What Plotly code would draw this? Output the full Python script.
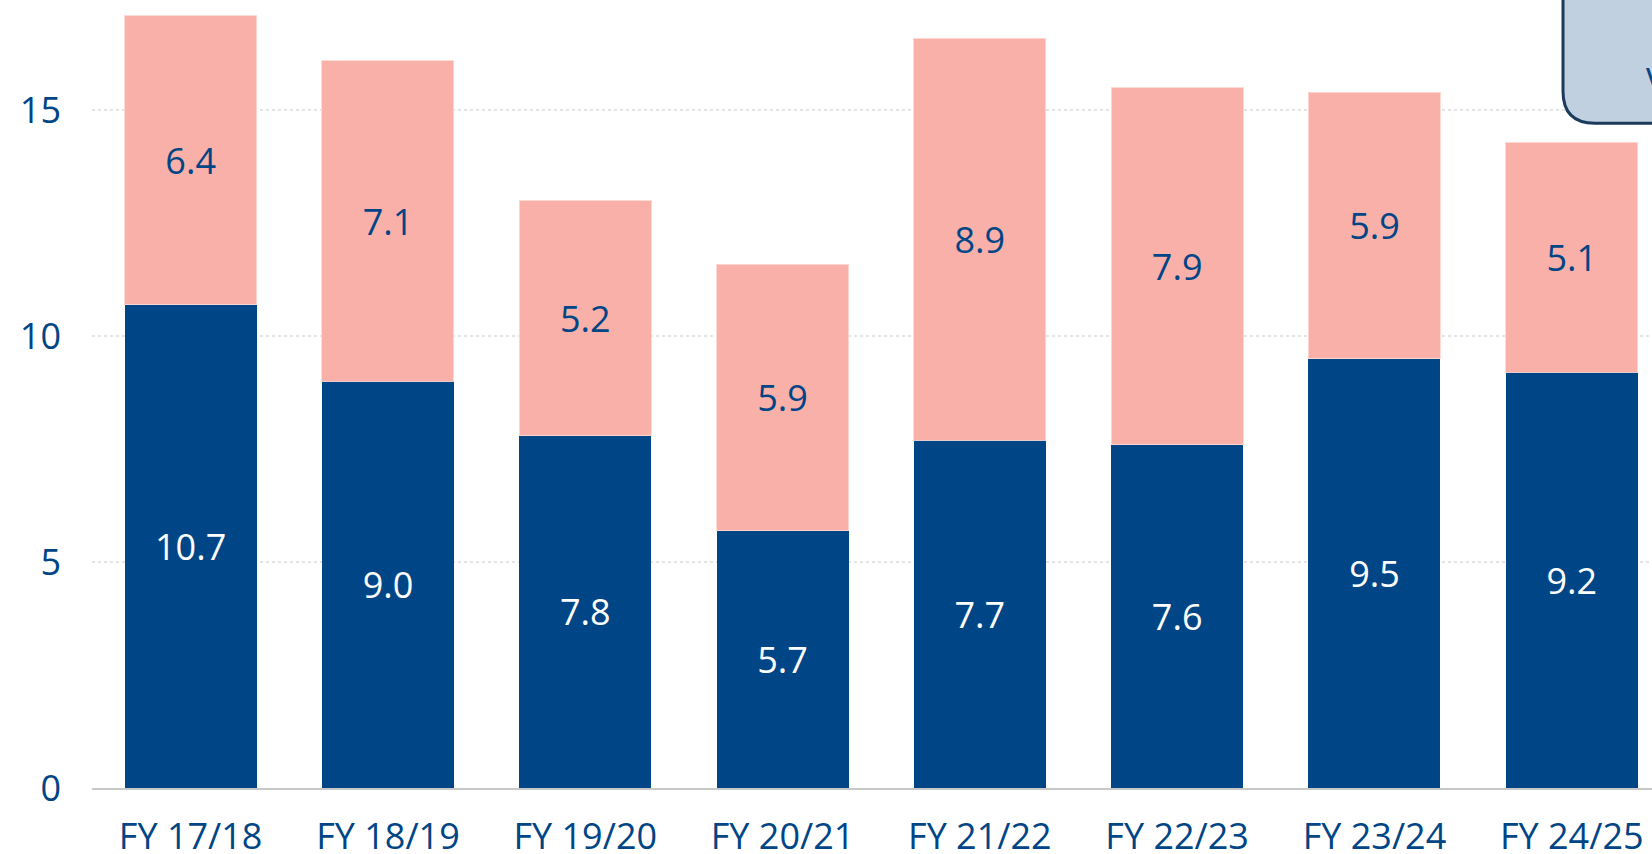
import plotly.graph_objects as go

categories = ["FY 17/18", "FY 18/19", "FY 19/20", "FY 20/21", "FY 21/22", "FY 22/23", "FY 23/24", "FY 24/25"]
base_values = [10.7, 9.0, 7.8, 5.7, 7.7, 7.6, 9.5, 9.2]
top_values = [6.4, 7.1, 5.2, 5.9, 8.9, 7.9, 5.9, 5.1]
y_ticks = [0, 5, 10, 15]

NAVY = "#004585"
PINK = "#f8b0a9"
FONT = "Open Sans"
FS = 36

fig = go.Figure()
fig.add_trace(go.Bar(
    x=categories, y=base_values, name="base",
    marker=dict(color=NAVY, line=dict(width=0)),
    texttemplate="%{y:.1f}", textposition="inside", insidetextanchor="middle",
    textangle=0, constraintext="none",
    textfont=dict(color="white", family=FONT, size=FS),
    hoverinfo="skip",
))
fig.add_trace(go.Bar(
    x=categories, y=top_values, name="top",
    marker=dict(color=PINK, line=dict(width=1, color="rgba(255,215,210,0.9)")),
    texttemplate="%{y:.1f}", textposition="inside", insidetextanchor="middle",
    textangle=0, constraintext="none",
    textfont=dict(color=NAVY, family=FONT, size=FS),
    hoverinfo="skip",
))

W, H = 1652, 854
ML, MB = 92, 66
plot_w = W - ML
plot_h = H - MB
cat_px = 197.3
unit_px = 45.17

fig.update_layout(
    width=W, height=H,
    margin=dict(l=ML, r=0, t=0, b=MB, pad=0),
    barmode="stack", bargap=0.331,
    plot_bgcolor="white", paper_bgcolor="white",
    showlegend=False,
    font=dict(family=FONT, size=FS, color=NAVY),
    xaxis=dict(
        range=[-0.5, -0.5 + plot_w / cat_px],
        showgrid=False, showline=True, linecolor="#c8c8c8", linewidth=2,
        ticks="", ticklabelstandoff=16,
        tickfont=dict(family=FONT, size=FS, color=NAVY),
        fixedrange=True, automargin=False,
    ),
    yaxis=dict(
        range=[0, plot_h / unit_px],
        tickvals=y_ticks, ticktext=[str(v) for v in y_ticks],
        showgrid=True, gridcolor="#e4e4e4", gridwidth=1.5, griddash="dot",
        zeroline=False, showline=False,
        ticks="", ticklabelstandoff=30,
        tickfont=dict(family=FONT, size=FS, color=NAVY),
        fixedrange=True, automargin=False,
    ),
)

# Rounded callout box, partially cut off at top-right
bx = (1563 - ML) / plot_w
by = (plot_h - 123.3) / plot_h
r = 32
fig.add_shape(
    type="path", xref="paper", yref="paper",
    xsizemode="pixel", ysizemode="pixel", xanchor=bx, yanchor=by,
    path=f"M 0,400 V {r} Q 0,0 {r},0 H 400 V 400 Z",
    fillcolor="#c0d0e1", line=dict(color="#1c3a5c", width=3),
    layer="above",
)
fig.add_annotation(
    xref="paper", yref="paper", x=(1644 - ML) / plot_w, y=(plot_h - 80) / plot_h,
    xanchor="left", yanchor="middle", text="V", showarrow=False,
    font=dict(family=FONT, size=34, color=NAVY),
)

fig.write_html(
    "out.html",
    config={"displayModeBar": False},
    post_script="document.body.style.margin='0';document.body.style.overflow='hidden';",
)
